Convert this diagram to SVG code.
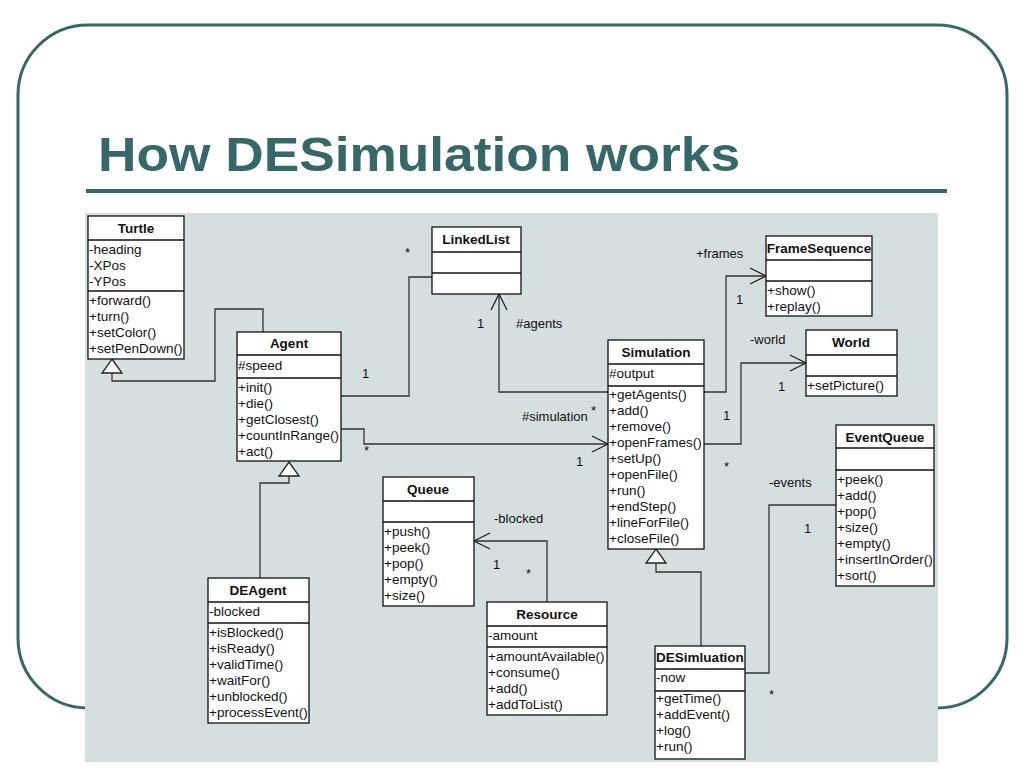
<svg xmlns="http://www.w3.org/2000/svg" width="1024" height="768" viewBox="0 0 1024 768">
<defs>
<style>
.box{fill:#fff;stroke:#111;stroke-width:1.3}
.sep{stroke:#111;stroke-width:1.3}
.t{font-family:"Liberation Sans",Arial,sans-serif;font-size:13.5px;fill:#111}
.b{font-family:"Liberation Sans",Arial,sans-serif;font-size:13.5px;font-weight:bold;fill:#111;text-anchor:middle}
.lbl{font-family:"Liberation Sans",Arial,sans-serif;font-size:13px;fill:#111}
.c{fill:none;stroke:#333;stroke-width:1.3}
.tri{fill:#fff;stroke:#222;stroke-width:1.3}
</style>
<marker id="open" markerUnits="userSpaceOnUse" markerWidth="20" markerHeight="20" viewBox="-17 -10 20 20" refX="0" refY="0" orient="auto">
<path d="M-16,-8 L0,0 L-16,8" fill="none" stroke="#222" stroke-width="1.3"/>
</marker>
</defs>
<rect width="1024" height="768" fill="#fff"/>
<rect x="18" y="25" width="989" height="683" rx="70" ry="70" fill="none" stroke="#356868" stroke-width="3"/>
<text x="98" y="171" font-family="Liberation Sans,Arial,sans-serif" font-size="48" font-weight="bold" fill="#356868" textLength="642" lengthAdjust="spacingAndGlyphs">How DESimulation works</text>
<rect x="86" y="189" width="861" height="4" fill="#356868"/>
<rect x="85" y="213" width="853" height="549" fill="#d5dfdf"/>

<g id="connectors">
<path class="c" d="M112,373 V381 H215 V309 H263 V332"/>
<path class="c" d="M289,476 V483 H260 V578"/>
<path class="c" d="M341,396 H409 V277 H432"/>
<path class="c" d="M341,429 H364 V444 H608" marker-end="url(#open)"/>
<path class="c" d="M608,392 H499 V294" marker-end="url(#open)"/>
<path class="c" d="M704,392 H726 V276 H766" marker-end="url(#open)"/>
<path class="c" d="M704,444 H741 V363 H806" marker-end="url(#open)"/>
<path class="c" d="M745,673 H769 V505 H836"/>
<path class="c" d="M701,646 V572 H656 V563"/>
<path class="c" d="M547,602 V541 H474" marker-end="url(#open)"/>
<path class="tri" d="M112,359 L122,373 L102,373 Z"/>
<path class="tri" d="M289,462 L299,476 L279,476 Z"/>
<path class="tri" d="M656,549 L666,563 L646,563 Z"/>
<text class="lbl" x="405" y="257">*</text>
<text class="lbl" x="362" y="378">1</text>
<text class="lbl" x="477" y="328">1</text>
<text class="lbl" x="516" y="328">#agents</text>
<text class="lbl" x="522" y="421">#simulation</text>
<text class="lbl" x="591" y="415">*</text>
<text class="lbl" x="364" y="455">*</text>
<text class="lbl" x="576" y="466">1</text>
<text class="lbl" x="696" y="258">+frames</text>
<text class="lbl" x="736" y="304">1</text>
<text class="lbl" x="750" y="344">-world</text>
<text class="lbl" x="778" y="391">1</text>
<text class="lbl" x="723" y="420">1</text>
<text class="lbl" x="724" y="471">*</text>
<text class="lbl" x="769" y="487">-events</text>
<text class="lbl" x="804" y="533">1</text>
<text class="lbl" x="769" y="699">*</text>
<text class="lbl" x="494" y="523">-blocked</text>
<text class="lbl" x="493" y="569">1</text>
<text class="lbl" x="526" y="578">*</text>
</g>

<g id="Turtle">
<rect class="box" x="88" y="216" width="96" height="143"/>
<line class="sep" x1="88" y1="240" x2="184" y2="240"/>
<line class="sep" x1="88" y1="291" x2="184" y2="291"/>
<text class="b" x="136" y="233">Turtle</text>
<text class="t" x="89" y="254">-heading</text>
<text class="t" x="89" y="270">-XPos</text>
<text class="t" x="89" y="286">-YPos</text>
<text class="t" x="89" y="305">+forward()</text>
<text class="t" x="89" y="321">+turn()</text>
<text class="t" x="89" y="337">+setColor()</text>
<text class="t" x="89" y="353">+setPenDown()</text>
</g>

<g id="Agent">
<rect class="box" x="237" y="332" width="104" height="129"/>
<line class="sep" x1="237" y1="355" x2="341" y2="355"/>
<line class="sep" x1="237" y1="378" x2="341" y2="378"/>
<text class="b" x="289" y="348">Agent</text>
<text class="t" x="238" y="370">#speed</text>
<text class="t" x="238" y="392">+init()</text>
<text class="t" x="238" y="408">+die()</text>
<text class="t" x="238" y="424">+getClosest()</text>
<text class="t" x="238" y="440">+countInRange()</text>
<text class="t" x="238" y="456">+act()</text>
</g>

<g id="LinkedList">
<rect class="box" x="432" y="227" width="89" height="67"/>
<line class="sep" x1="432" y1="252" x2="521" y2="252"/>
<line class="sep" x1="432" y1="273" x2="521" y2="273"/>
<text class="b" x="476" y="244">LinkedList</text>
</g>

<g id="Simulation">
<rect class="box" x="608" y="340" width="96" height="209"/>
<line class="sep" x1="608" y1="364" x2="704" y2="364"/>
<line class="sep" x1="608" y1="386" x2="704" y2="386"/>
<text class="b" x="656" y="357">Simulation</text>
<text class="t" x="609" y="378">#output</text>
<text class="t" x="609" y="399">+getAgents()</text>
<text class="t" x="609" y="415">+add()</text>
<text class="t" x="609" y="431">+remove()</text>
<text class="t" x="609" y="447">+openFrames()</text>
<text class="t" x="609" y="463">+setUp()</text>
<text class="t" x="609" y="479">+openFile()</text>
<text class="t" x="609" y="495">+run()</text>
<text class="t" x="609" y="511">+endStep()</text>
<text class="t" x="609" y="527">+lineForFile()</text>
<text class="t" x="609" y="543">+closeFile()</text>
</g>

<g id="FrameSequence">
<rect class="box" x="766" y="236" width="106" height="80"/>
<line class="sep" x1="766" y1="260" x2="872" y2="260"/>
<line class="sep" x1="766" y1="281" x2="872" y2="281"/>
<text class="b" x="819" y="253">FrameSequence</text>
<text class="t" x="767" y="295">+show()</text>
<text class="t" x="767" y="311">+replay()</text>
</g>

<g id="World">
<rect class="box" x="806" y="330" width="91" height="66"/>
<line class="sep" x1="806" y1="355" x2="897" y2="355"/>
<line class="sep" x1="806" y1="376" x2="897" y2="376"/>
<text class="b" x="851" y="347">World</text>
<text class="t" x="807" y="390">+setPicture()</text>
</g>

<g id="EventQueue">
<rect class="box" x="836" y="425" width="98" height="161"/>
<line class="sep" x1="836" y1="448" x2="934" y2="448"/>
<line class="sep" x1="836" y1="470" x2="934" y2="470"/>
<text class="b" x="885" y="442">EventQueue</text>
<text class="t" x="837" y="484">+peek()</text>
<text class="t" x="837" y="500">+add()</text>
<text class="t" x="837" y="516">+pop()</text>
<text class="t" x="837" y="532">+size()</text>
<text class="t" x="837" y="548">+empty()</text>
<text class="t" x="837" y="564">+insertInOrder()</text>
<text class="t" x="837" y="580">+sort()</text>
</g>

<g id="Queue">
<rect class="box" x="383" y="477" width="91" height="129"/>
<line class="sep" x1="383" y1="501" x2="474" y2="501"/>
<line class="sep" x1="383" y1="522" x2="474" y2="522"/>
<text class="b" x="428" y="494">Queue</text>
<text class="t" x="384" y="536">+push()</text>
<text class="t" x="384" y="552">+peek()</text>
<text class="t" x="384" y="568">+pop()</text>
<text class="t" x="384" y="584">+empty()</text>
<text class="t" x="384" y="600">+size()</text>
</g>

<g id="Resource">
<rect class="box" x="487" y="602" width="120" height="113"/>
<line class="sep" x1="487" y1="626" x2="607" y2="626"/>
<line class="sep" x1="487" y1="647" x2="607" y2="647"/>
<text class="b" x="547" y="619">Resource</text>
<text class="t" x="488" y="640">-amount</text>
<text class="t" x="488" y="661">+amountAvailable()</text>
<text class="t" x="488" y="677">+consume()</text>
<text class="t" x="488" y="693">+add()</text>
<text class="t" x="488" y="709">+addToList()</text>
</g>

<g id="DEAgent">
<rect class="box" x="208" y="578" width="101" height="145"/>
<line class="sep" x1="208" y1="602" x2="309" y2="602"/>
<line class="sep" x1="208" y1="623" x2="309" y2="623"/>
<text class="b" x="258" y="595">DEAgent</text>
<text class="t" x="209" y="616">-blocked</text>
<text class="t" x="209" y="637">+isBlocked()</text>
<text class="t" x="209" y="653">+isReady()</text>
<text class="t" x="209" y="669">+validTime()</text>
<text class="t" x="209" y="685">+waitFor()</text>
<text class="t" x="209" y="701">+unblocked()</text>
<text class="t" x="209" y="717">+processEvent()</text>
</g>

<g id="DESimuation">
<rect class="box" x="655" y="646" width="90" height="113"/>
<line class="sep" x1="655" y1="669" x2="745" y2="669"/>
<line class="sep" x1="655" y1="691" x2="745" y2="691"/>
<text class="b" x="700" y="662">DESimluation</text>
<text class="t" x="656" y="682">-now</text>
<text class="t" x="656" y="703">+getTime()</text>
<text class="t" x="656" y="719">+addEvent()</text>
<text class="t" x="656" y="735">+log()</text>
<text class="t" x="656" y="751">+run()</text>
</g>
</svg>
